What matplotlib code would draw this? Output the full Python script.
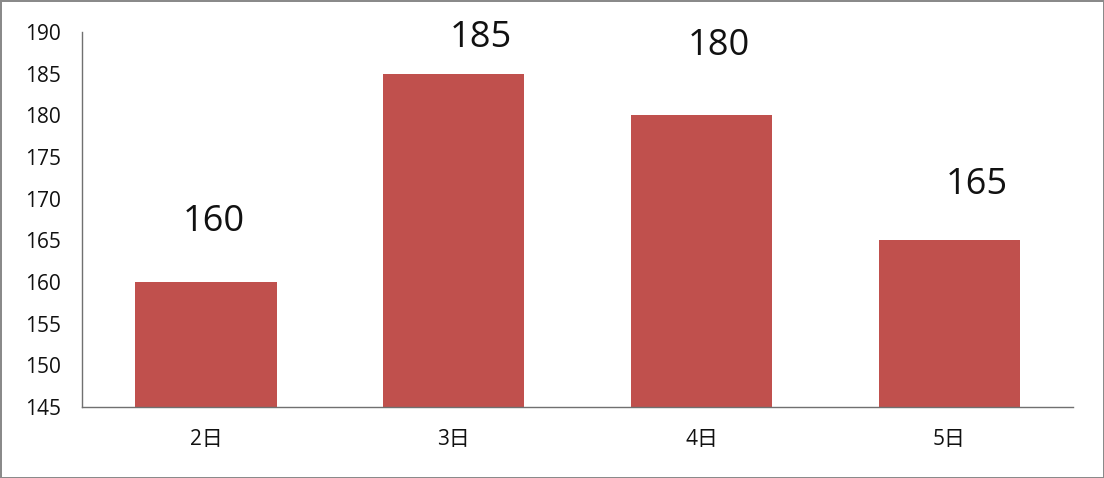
import matplotlib
matplotlib.use("Agg")
from matplotlib import pyplot as plt

# data
days = ["2日", "3日", "4日", "5日"]
values = [160, 185, 180, 165]
yticks = [145, 150, 155, 160, 165, 170, 175, 180, 185, 190]

# data labels were dragged by hand in the original, keep the nudges
label_dx = [0.03, 0.11, 0.07, 0.11]
label_dy = [7.2, 4.3, 8.3, 6.6]

plt.rcParams['font.family'] = ['Open Sans', 'Noto Sans CJK SC', 'DejaVu Sans']

fig = plt.figure(figsize=(11.04, 4.78), dpi=100)
fig.patch.set_edgecolor('#8a8a8a')
fig.patch.set_linewidth(2)
ax = fig.add_axes([0.0743, 0.1485, 0.8977, 0.7845])

x = range(len(days))
ax.bar(x, values, width=0.57, color='#C0504D', bottom=0)

for i, v in enumerate(values):
    ax.text(i + label_dx[i], v + label_dy[i], str(v), ha='center', va='center',
            fontsize=26, color='#111111')

ax.set_ylim(145, 190)
ax.set_xlim(-0.5, len(days) - 0.5)
ax.set_yticks(yticks)
ax.set_xticks(list(x))
ax.set_xticklabels(days)
ax.tick_params(axis='both', length=0, labelsize=15, colors='#111111')
ax.tick_params(axis='y', pad=15)
ax.tick_params(axis='x', pad=16)

for s in ['top', 'right']:
    ax.spines[s].set_visible(False)
for s in ['left', 'bottom']:
    ax.spines[s].set_color('#707070')
    ax.spines[s].set_linewidth(1)

plt.savefig('out.png', dpi=100, edgecolor=fig.get_edgecolor())
